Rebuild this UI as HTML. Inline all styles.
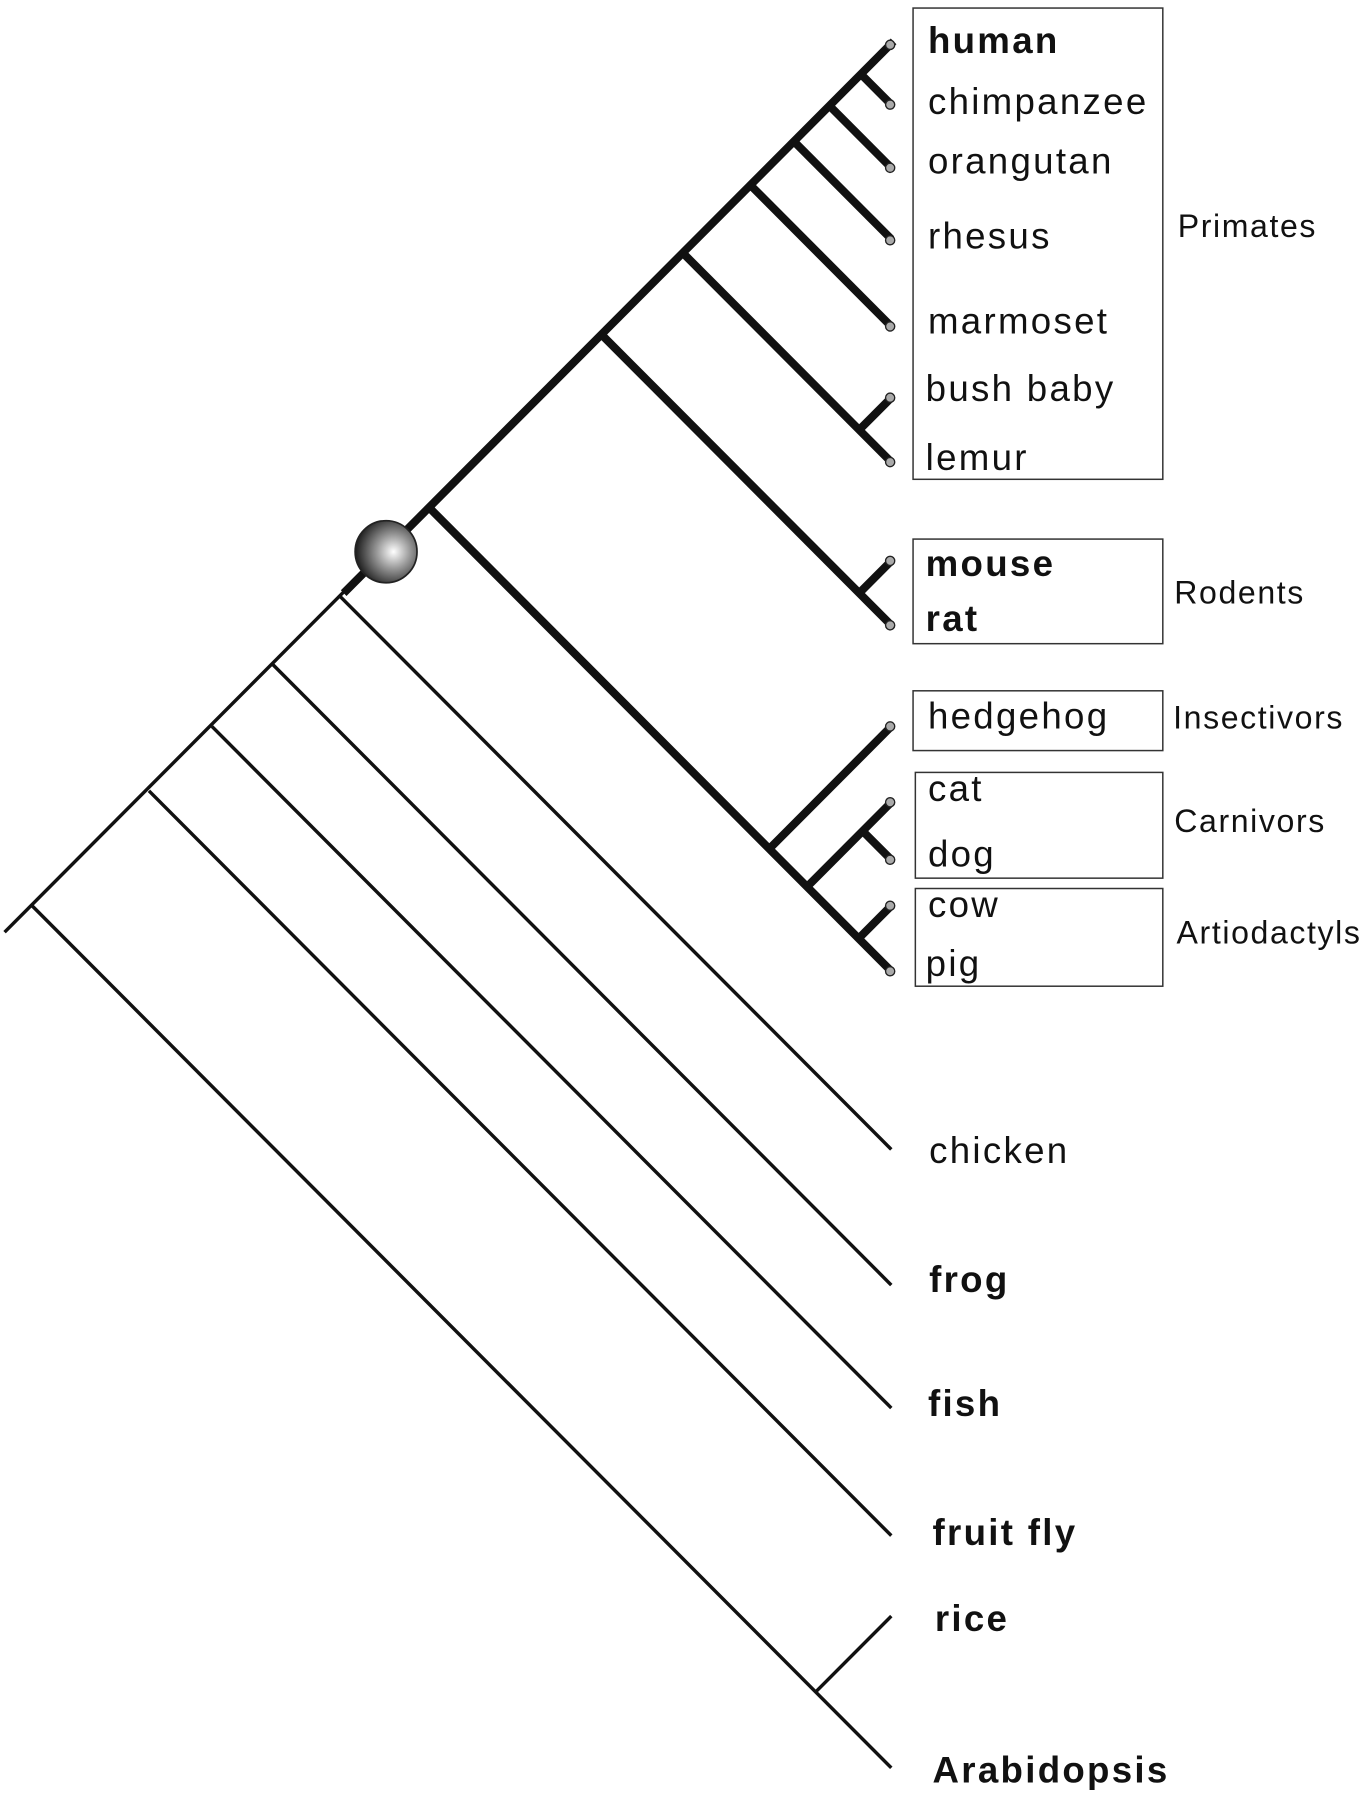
<!DOCTYPE html>
<html><head><meta charset="utf-8"><style>
html,body{margin:0;padding:0;background:#fff;}
svg{display:block;}
text{font-family:"Liberation Sans",sans-serif;fill:#111;}
.t{font-size:32px;letter-spacing:2px;}
.b{font-size:32px;font-weight:bold;letter-spacing:2px;}
.g{font-size:28px;letter-spacing:1.4px;}
</style></head><body>
<svg width="1361" height="1800" viewBox="0 0 1188 1566" preserveAspectRatio="none" xmlns="http://www.w3.org/2000/svg">
<defs>
<radialGradient id="rg" cx="0.62" cy="0.5" r="0.6">
<stop offset="0" stop-color="#fff"/><stop offset="0.45" stop-color="#999"/><stop offset="1" stop-color="#222"/>
</radialGradient>
</defs>
<g stroke="#111" stroke-linecap="butt" fill="none">
<g stroke-width="3">
<line x1="4" y1="811" x2="305" y2="510"/>
<line x1="28" y1="788" x2="778" y2="1538"/>
<line x1="130" y1="688" x2="778" y2="1336"/>
<line x1="185" y1="632" x2="778" y2="1225"/>
<line x1="238" y1="578" x2="778" y2="1118"/>
<line x1="297" y1="519" x2="778" y2="1000"/>
<line x1="712" y1="1472" x2="778" y2="1406"/>
</g>
<g stroke-width="7">
<line x1="300" y1="516" x2="780" y2="36"/>
<line x1="374" y1="441" x2="778" y2="845"/>
<line x1="671" y1="739" x2="778" y2="632"/>
<line x1="704" y1="772" x2="778" y2="698"/>
<line x1="753" y1="723" x2="778" y2="748"/>
<line x1="749" y1="817" x2="778" y2="788"/>
<line x1="525" y1="291" x2="778" y2="544"/>
<line x1="750" y1="516" x2="778" y2="488"/>
<line x1="596" y1="220" x2="778" y2="402"/>
<line x1="750" y1="374" x2="778" y2="346"/>
<line x1="655" y1="161" x2="778" y2="284"/>
<line x1="693" y1="123" x2="778" y2="208"/>
<line x1="724" y1="92" x2="778" y2="146"/>
<line x1="751" y1="64" x2="778" y2="91"/>
</g>
</g>
<g fill="#aaa" stroke="#222" stroke-width="1.2">
<circle cx="777" cy="39" r="4"/><circle cx="777" cy="91" r="4"/><circle cx="777" cy="146" r="4"/>
<circle cx="777" cy="209" r="4"/><circle cx="777" cy="284" r="4"/><circle cx="777" cy="346" r="4"/>
<circle cx="777" cy="402" r="4"/><circle cx="777" cy="488" r="4"/><circle cx="777" cy="544" r="4"/>
<circle cx="777" cy="632" r="4"/><circle cx="777" cy="698" r="4"/><circle cx="777" cy="748" r="4"/>
<circle cx="777" cy="788" r="4"/><circle cx="777" cy="845" r="4"/>
</g>
<circle cx="337" cy="480" r="27" fill="url(#rg)" stroke="#222" stroke-width="1.5"/>
<g fill="none" stroke="#333" stroke-width="1.3">
<rect x="797" y="7" width="218" height="410"/>
<rect x="797" y="469" width="218" height="91"/>
<rect x="797" y="601" width="218" height="52"/>
<rect x="799" y="672" width="216" height="92"/>
<rect x="799" y="773" width="216" height="85"/>
</g>
<text class="b" x="810" y="46">human</text>
<text class="t" x="810" y="99">chimpanzee</text>
<text class="t" x="810" y="151">orangutan</text>
<text class="t" x="810" y="216">rhesus</text>
<text class="t" x="810" y="290">marmoset</text>
<text class="t" x="808" y="349">bush baby</text>
<text class="t" x="808" y="409">lemur</text>
<text class="b" x="808" y="501">mouse</text>
<text class="b" x="808" y="549">rat</text>
<text class="t" x="810" y="634">hedgehog</text>
<text class="t" x="810" y="697">cat</text>
<text class="t" x="810" y="754">dog</text>
<text class="t" x="810" y="798">cow</text>
<text class="t" x="808" y="849">pig</text>
<text class="t" x="811" y="1012">chicken</text>
<text class="b" x="811" y="1124">frog</text>
<text class="b" x="810" y="1232">fish</text>
<text class="b" x="814" y="1344">fruit fly</text>
<text class="b" x="816" y="1419">rice</text>
<text class="b" x="814" y="1551">Arabidopsis</text>
<text class="g" x="1028" y="206">Primates</text>
<text class="g" x="1025" y="525">Rodents</text>
<text class="g" x="1024" y="634">Insectivors</text>
<text class="g" x="1025" y="724">Carnivors</text>
<text class="g" x="1027" y="821">Artiodactyls</text>
</svg>
</body></html>
